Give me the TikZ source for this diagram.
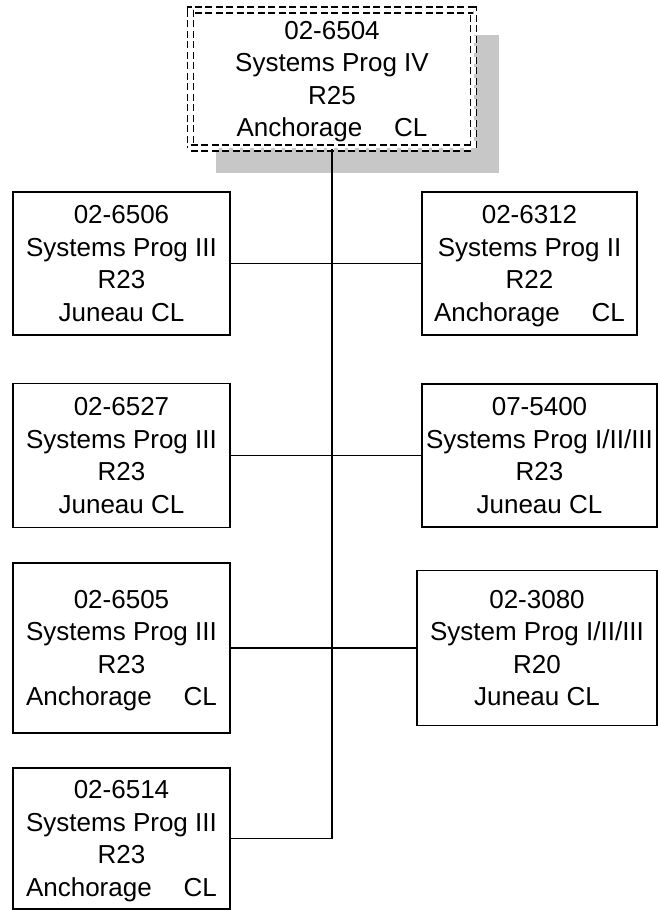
\documentclass[tikz,border=0pt]{standalone}
\usepackage{fontspec}
\setmainfont{Liberation Sans}
\usetikzlibrary{shadows}
\newcommand{\clgap}{\hspace{32pt}}
\newcommand{\nodp}[1]{\raisebox{0pt}[\height][0pt]{#1}}
\begin{document}
\begin{tikzpicture}[x=1pt, y=-1pt,
        unitbox/.style={draw, fill=white, line width=1.6pt, inner sep=0pt, align=center,
            font=\fontsize{26}{32.5}\selectfont},
        leadbox/.style={unitbox, double, double distance=4.5pt, line width=1.6pt,
            dash pattern=on 7pt off 3.5pt,
            drop shadow={shadow xshift=25pt, shadow yshift=-25pt, fill=black!22, opacity=1}},
        link/.style={line width=1.5pt}]
        \useasboundingbox (0,0) rectangle (658,910);

        \node[leadbox, minimum width=283pt, minimum height=138pt] (top) at (332,79)
            {02-6504\\Systems Prog IV\\R25\\\nodp{Anchorage\clgap CL}};

        \node[unitbox, minimum width=217pt, minimum height=143pt] (l1) at (121.5,263.5)
            {02-6506\\Systems Prog III\\R23\\\nodp{Juneau CL}};
        \node[unitbox, minimum width=217pt, minimum height=144pt] (l2) at (121.5,455.5)
            {02-6527\\Systems Prog III\\R23\\\nodp{Juneau CL}};
        \node[unitbox, minimum width=217pt, minimum height=170pt] (l3) at (121.5,648)
            {02-6505\\Systems Prog III\\R23\\\nodp{Anchorage\clgap CL}};
        \node[unitbox, minimum width=217pt, minimum height=141pt] (l4) at (121.5,838.5)
            {02-6514\\Systems Prog III\\R23\\\nodp{Anchorage\clgap CL}};

        \node[unitbox, minimum width=215pt, minimum height=143pt] (r1) at (529.5,263.5)
            {02-6312\\Systems Prog II\\R22\\\nodp{Anchorage\clgap CL}};
        \node[unitbox, minimum width=235pt, minimum height=143pt] (r2) at (539.5,455.5)
            {07-5400\\Systems Prog I/II/III\\R23\\\nodp{Juneau CL}};
        \node[unitbox, minimum width=240pt, minimum height=155pt] (r3) at (537,648)
            {02-3080\\System Prog I/II/III\\R20\\\nodp{Juneau CL}};

        % trunk
        \coordinate (mid) at (top.south |- l2.east);
        \draw[line width=2.8pt] (top.south) -- (mid);
        \draw[link] (mid) -- (top.south |- l4.east) -- (l4.east);

        % branches
        \draw[link] (l1.east) -- (r1.west);
        \draw[link] (l2.east) -- (r2.west);
        \draw[link] (l3.east) -- (r3.west);
    \end{tikzpicture}
\end{document}
